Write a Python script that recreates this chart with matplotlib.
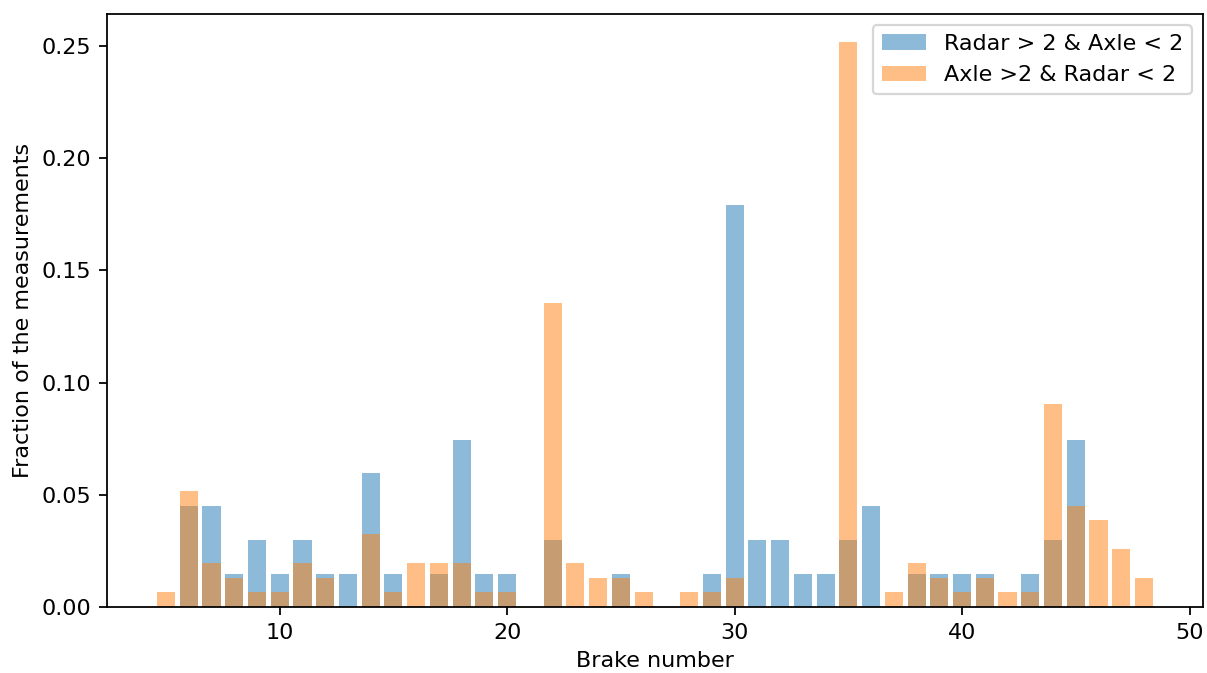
import matplotlib
matplotlib.use("Agg")
import matplotlib.pyplot as plt

# Fraction of measurements per brake, radar above threshold while axle below
radar_brakes = [6, 7, 8, 9, 10, 11, 12, 13, 14, 15, 17, 18, 19, 20, 22, 25, 29, 30,
                31, 32, 33, 34, 35, 36, 38, 39, 40, 41, 43, 44, 45]
radar_frac = [0.0448, 0.0448, 0.0149, 0.0299, 0.0149, 0.0299, 0.0149, 0.0149, 0.0597,
              0.0149, 0.0149, 0.0746, 0.0149, 0.0149, 0.0299, 0.0149, 0.0149, 0.1791,
              0.0299, 0.0299, 0.0149, 0.0149, 0.0299, 0.0448, 0.0149, 0.0149, 0.0149,
              0.0149, 0.0149, 0.0299, 0.0746]

# Fraction of measurements per brake, axle above threshold while radar below
axle_brakes = [5, 6, 7, 8, 9, 10, 11, 12, 14, 15, 16, 17, 18, 19, 20, 22, 23, 24, 25,
               26, 28, 29, 30, 35, 37, 38, 39, 40, 41, 42, 43, 44, 45, 46, 47, 48]
axle_frac = [0.0065, 0.0516, 0.0194, 0.0129, 0.0065, 0.0065, 0.0194, 0.0129, 0.0323,
             0.0065, 0.0194, 0.0194, 0.0194, 0.0065, 0.0065, 0.1355, 0.0194, 0.0129,
             0.0129, 0.0065, 0.0065, 0.0065, 0.0129, 0.2516, 0.0065, 0.0194, 0.0129,
             0.0065, 0.0129, 0.0065, 0.0065, 0.0903, 0.0452, 0.0387, 0.0258, 0.0129]

DPI = 160
fig = plt.figure(figsize=(1207 / DPI, 673 / DPI), dpi=DPI)
ax = fig.add_axes([107 / 1207, 1 - 607 / 673, (1203 - 107) / 1207, (607 - 14) / 673])

ax.bar(radar_brakes, radar_frac, alpha=0.5, label="Radar > 2 & Axle < 2")
ax.bar(axle_brakes, axle_frac, alpha=0.5, label="Axle >2 & Radar < 2")

ax.set_xlabel("Brake number")
ax.set_ylabel("Fraction of the measurements")
ax.legend(loc="upper right")

fig.savefig("out.png", dpi=DPI)
